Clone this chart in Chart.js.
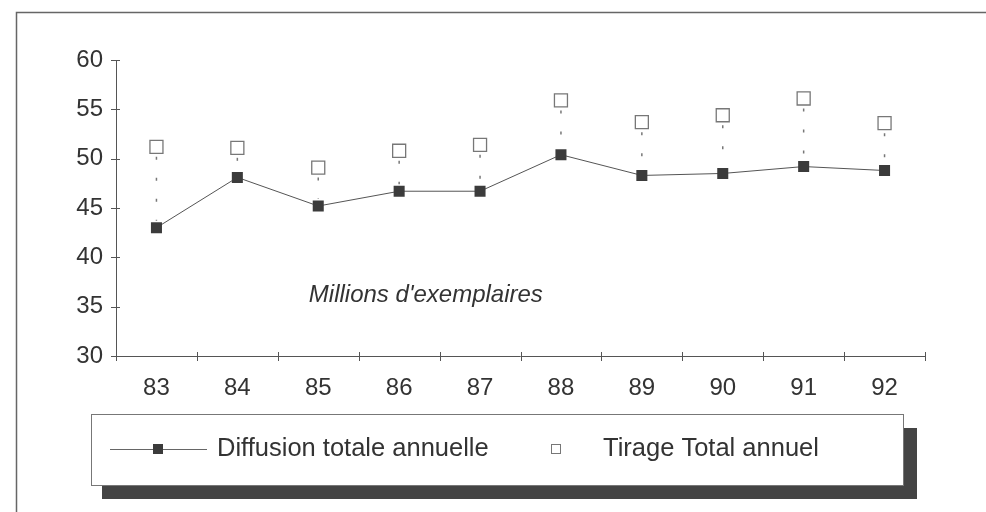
<!DOCTYPE html>
<html>
<head>
<meta charset="utf-8">
<script src="https://cdn.jsdelivr.net/npm/chart.js@4/dist/chart.umd.min.js"></script>
<style>
  html, body { margin: 0; padding: 0; background: #fff; }
  #wrap { width: 986px; height: 512px; }
</style>
</head>
<body>
<div id="wrap"><canvas id="grafico" width="986" height="512"></canvas></div>
<script>
// Dados
const anos = ["83", "84", "85", "86", "87", "88", "89", "90", "91", "92"];
const diffusion = [43.0, 48.1, 45.2, 46.7, 46.7, 50.4, 48.3, 48.5, 49.2, 48.8];
const tirage = [51.2, 51.1, 49.1, 50.8, 51.4, 55.9, 53.7, 54.4, 56.1, 53.6];
const ticksY = [30, 35, 40, 45, 50, 55, 60];
const nota = "Millions d'exemplaires";

const fonte = '"Liberation Sans", Arial, sans-serif';
const corTexto = '#333';

// Moldura (só topo e esquerda)
const moldura = {
  id: 'moldura',
  beforeDraw(chart) {
    const c = chart.ctx;
    c.save();
    c.fillStyle = '#fff';
    c.fillRect(0, 0, chart.width, chart.height);
    c.strokeStyle = '#666';
    c.lineWidth = 1.5;
    c.beginPath();
    c.moveTo(16.5, chart.height);
    c.lineTo(16.5, 12.5);
    c.lineTo(chart.width, 12.5);
    c.stroke();
    c.restore();
  }
};

// Eixos com marcas cruzando a linha
const eixos = {
  id: 'eixos',
  beforeDatasetsDraw(chart) {
    const c = chart.ctx;
    const a = chart.chartArea;
    const x = chart.scales.x, y = chart.scales.y;
    c.save();
    c.strokeStyle = '#555';
    c.lineWidth = 1;
    c.beginPath();
    c.moveTo(a.left + 0.5, a.top);
    c.lineTo(a.left + 0.5, a.bottom);
    c.moveTo(a.left, a.bottom + 0.5);
    c.lineTo(a.right, a.bottom + 0.5);
    ticksY.forEach(v => {
      const py = Math.round(y.getPixelForValue(v)) + 0.5;
      c.moveTo(a.left - 5, py);
      c.lineTo(a.left + 4, py);
    });
    for (let i = 0; i <= anos.length; i++) {
      const px = Math.round(x.getPixelForValue(i - 0.5)) + 0.5;
      c.moveTo(px, a.bottom - 4);
      c.lineTo(px, a.bottom + 5);
    }
    c.stroke();

    // linhas pontilhadas entre tiragem e difusão
    c.strokeStyle = '#777';
    c.lineWidth = 1.5;
    c.setLineDash([3, 18]);
    anos.forEach((_, i) => {
      const px = x.getPixelForValue(i);
      const yTop = y.getPixelForValue(tirage[i]) + 10;
      const yBot = y.getPixelForValue(diffusion[i]) - 7;
      c.beginPath();
      c.moveTo(px, yTop);
      c.lineTo(px, yBot);
      c.stroke();
    });
    c.setLineDash([]);

    // anotação
    c.fillStyle = corTexto;
    c.font = 'italic 24px ' + fonte;
    c.textAlign = 'center';
    c.textBaseline = 'middle';
    c.fillText(nota, x.getPixelForValue(3.33), y.getPixelForValue(36.1));
    c.restore();
  }
};

// Legenda em caixa com sombra
const legendaCaixa = {
  id: 'legendaCaixa',
  afterDraw(chart) {
    const c = chart.ctx;
    const ds = chart.data.datasets;
    c.save();
    c.fillStyle = '#444';
    c.fillRect(102, 428, 815, 71);
    c.fillStyle = '#fff';
    c.fillRect(91, 414, 812, 71);
    c.strokeStyle = '#777';
    c.lineWidth = 1;
    c.strokeRect(91.5, 414.5, 812, 71);

    const yl = 449;
    c.strokeStyle = '#666';
    c.beginPath();
    c.moveTo(110, yl + 0.5);
    c.lineTo(207, yl + 0.5);
    c.stroke();
    c.fillStyle = '#3b3b3b';
    c.fillRect(153, yl - 5, 10, 10);

    c.strokeStyle = '#777';
    c.strokeRect(551.5, yl - 4.5, 9, 9);

    c.fillStyle = corTexto;
    c.font = '25.5px ' + fonte;
    c.textAlign = 'left';
    c.textBaseline = 'middle';
    c.fillText(ds[0].label, 217, yl);
    c.fillText(ds[1].label, 603, yl);
    c.restore();
  }
};

const ctx = document.getElementById('grafico').getContext('2d');
new Chart(ctx, {
  type: 'line',
  data: {
    labels: anos,
    datasets: [
      {
        label: 'Diffusion totale annuelle',
        data: diffusion,
        borderColor: '#555',
        borderWidth: 1,
        pointStyle: 'rect',
        pointRadius: 7.8,
        pointBackgroundColor: '#3b3b3b',
        pointBorderColor: '#3b3b3b',
        pointBorderWidth: 0,
        tension: 0
      },
      {
        label: 'Tirage Total annuel',
        data: tirage,
        showLine: false,
        pointStyle: 'rect',
        pointRadius: 9.2,
        pointBackgroundColor: '#fff',
        pointBorderColor: '#777',
        pointBorderWidth: 1.3
      }
    ]
  },
  options: {
    responsive: false,
    animation: false,
    devicePixelRatio: 1,
    layout: { padding: { left: 0, top: 60, right: 61, bottom: 106 } },
    plugins: {
      legend: { display: false },
      tooltip: { enabled: false }
    },
    scales: {
      x: {
        type: 'category',
        offset: true,
        grid: { display: false },
        border: { display: false },
        ticks: { color: corTexto, font: { family: fonte, size: 24 }, padding: 10, maxRotation: 0 },
        afterFit(s) { s.height = 50; }
      },
      y: {
        min: 30,
        max: 60,
        grid: { display: false },
        border: { display: false },
        ticks: { color: corTexto, font: { family: fonte, size: 24 }, padding: 5, stepSize: 5 },
        afterBuildTicks(s) { s.ticks = ticksY.map(v => ({ value: v })); },
        afterFit(s) { s.width = 116; }
      }
    }
  },
  plugins: [moldura, eixos, legendaCaixa]
});
</script>
</body>
</html>
